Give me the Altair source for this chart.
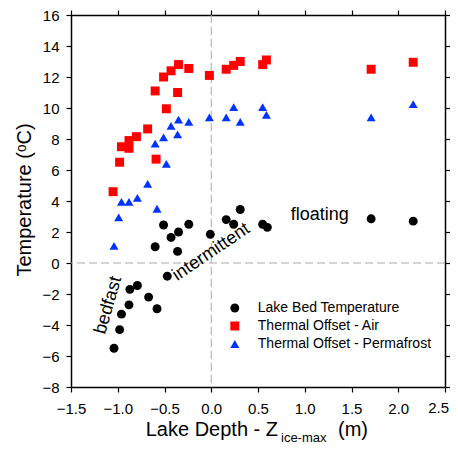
import altair as alt
import pandas as pd

# ---------------- data ----------------
series_names = ["Lake Bed Temperature", "Thermal Offset - Air", "Thermal Offset - Permafrost"]

depth_bed = [-1.04, -0.98, -0.96, -0.88, -0.87, -0.79, -0.67, -0.58, -0.60, -0.51, -0.47, -0.43,
             -0.36, -0.35, -0.24, -0.01, 0.16, 0.24, 0.31, 0.55, 0.60, 1.71, 2.16]
temp_bed = [-5.5, -4.3, -3.3, -2.7, -1.7, -1.45, -2.2, -2.95, 1.05, 2.45, -0.85, 1.65,
            0.75, 2.0, 2.5, 1.85, 2.8, 2.5, 3.45, 2.5, 2.3, 2.85, 2.7]

depth_air = [-1.05, -0.98, -0.96, -0.88, -0.88, -0.80, -0.68, -0.59, -0.60, -0.48, -0.51, -0.43,
             -0.36, -0.35, -0.24, -0.02, 0.16, 0.24, 0.31, 0.55, 0.59, 1.71, 2.16]
offset_air = [4.6, 6.5, 7.5, 7.4, 7.9, 8.15, 8.65, 6.7, 11.1, 9.95, 12.0, 12.4,
              11.0, 12.8, 12.55, 12.1, 12.5, 12.75, 13.0, 12.8, 13.1, 12.5, 12.95]

depth_perm = [-1.04, -0.99, -0.96, -0.88, -0.79, -0.68, -0.58, -0.60, -0.51, -0.48, -0.43,
              -0.36, -0.35, -0.24, -0.02, 0.16, 0.24, 0.31, 0.55, 0.59, 1.71, 2.16]
offset_perm = [1.1, 2.95, 3.95, 3.95, 4.2, 5.1, 3.5, 7.7, 8.1, 6.4, 8.85,
               8.3, 9.25, 9.1, 9.4, 9.4, 10.05, 9.1, 10.05, 9.55, 9.4, 10.25]

x_ticks = [-1.5, -1.0, -0.5, 0.0, 0.5, 1.0, 1.5, 2.0, 2.5]
y_ticks = [-8, -6, -4, -2, 0, 2, 4, 6, 8, 10, 12, 14, 16]

ann_text = ["floating", "intermittent", "bedfast"]
ann_x = [1.16, 0.0, -1.10]
ann_y = [3.1, 0.7, -2.73]
ann_angle = [0, 326, 286]

# ---------------- tables ----------------
rows = []
for name, xs, ys in zip(series_names, [depth_bed, depth_air, depth_perm],
                        [temp_bed, offset_air, offset_perm]):
    for a, b in zip(xs, ys):
        rows.append({"series": name, "depth": a, "temp": b})
df = pd.DataFrame(rows)
ann = pd.DataFrame({"text": ann_text, "x": ann_x, "y": ann_y, "angle": ann_angle})
one = pd.DataFrame({"k": [0]})
last_tick = pd.DataFrame({"x": [x_ticks[-1]], "label": ["%.1f" % x_ticks[-1]]})

FONT = "Liberation Sans"
colors = ["#000000", "#ff0000", "#0033ff"]
shapes = ["circle", "square", "triangle-up"]

xscale = alt.Scale(domain=[-1.5, 2.5], nice=False, zero=False)
yscale = alt.Scale(domain=[-8, 16], nice=False, zero=False)

common_axis = dict(grid=False, title=None, tickSize=5, tickColor="black", tickWidth=1.2,
                   domainColor="black", domainWidth=1.5, labelFont=FONT, labelColor="black",
                   labelFontSize=15, labelFlush=False, labelOverlap=False, labelBound=False)

xaxis = alt.Axis(values=x_ticks, format=".1f", labelPadding=9, orient="bottom",
                 labelExpr="datum.value >= 2.49 ? '' : datum.label", **common_axis)
yaxis = alt.Axis(values=y_ticks, format="d", labelPadding=7, orient="left", **common_axis)
xaxis_top = alt.Axis(values=x_ticks, labels=False, orient="top", **common_axis)
yaxis_right = alt.Axis(values=y_ticks, labels=False, orient="right", **common_axis)

legend = alt.Legend(title=None, orient="none", legendX=156.8, legendY=286, padding=0,
                    labelFont=FONT, labelFontSize=14, labelColor="black", symbolSize=60,
                    symbolStrokeWidth=0, rowPadding=4, labelOffset=16, labelLimit=0)

# dashed zero lines
hline = alt.Chart(one).mark_rule(color="#aaaaaa", strokeDash=[8, 4], strokeWidth=1).encode(
    y=alt.YDatum(0, scale=yscale, axis=None))
vline = alt.Chart(one).mark_rule(color="#aaaaaa", strokeDash=[8, 4], strokeWidth=1).encode(
    x=alt.XDatum(0, scale=xscale, axis=None))

pts = alt.Chart(df).mark_point(filled=True, opacity=1, strokeWidth=0).encode(
    x=alt.X("depth:Q", scale=xscale, axis=xaxis),
    y=alt.Y("temp:Q", scale=yscale, axis=yaxis),
    color=alt.Color("series:N", scale=alt.Scale(domain=series_names, range=colors), legend=legend),
    shape=alt.Shape("series:N", scale=alt.Scale(domain=series_names, range=shapes), legend=legend),
    size=alt.Size("series:N", scale=alt.Scale(domain=series_names, range=[80, 81, 110]), legend=None),
)

ghost = alt.Chart(df).mark_point(opacity=0).encode(
    x=alt.X("depth:Q", scale=xscale, axis=xaxis_top),
    y=alt.Y("temp:Q", scale=yscale, axis=yaxis_right),
)

# last x tick label, kept inside the canvas
last_lbl = alt.Chart(last_tick).mark_text(font=FONT, fontSize=15, color="black", align="right",
                                          baseline="top", dx=4).encode(
    x=alt.X("x:Q", scale=xscale, axis=None),
    y=alt.value(386),
    text="label:N",
)

notes = alt.Chart(ann).mark_text(font=FONT, fontSize=18, color="black", align="center",
                                 baseline="middle").encode(
    x=alt.X("x:Q", scale=xscale, axis=None),
    y=alt.Y("y:Q", scale=yscale, axis=None),
    text="text:N",
    angle=alt.Angle("angle:Q", scale=None),
)

# axis titles (with subscript / superscript)
ytitle = alt.Chart(one).mark_text(text="Temperature (ᵒC)", font=FONT, fontSize=20, color="black",
                                  angle=270, align="center", baseline="middle").encode(
    x=alt.value(-46), y=alt.value(185))
xt_main = alt.Chart(one).mark_text(text="Lake Depth - Z", font=FONT, fontSize=20, color="black",
                                   align="right", baseline="alphabetic").encode(
    x=alt.value(207), y=alt.value(421))
xt_sub = alt.Chart(one).mark_text(text="ice-max", font=FONT, fontSize=13, color="black",
                                  align="left", baseline="alphabetic").encode(
    x=alt.value(210), y=alt.value(427))
xt_end = alt.Chart(one).mark_text(text="(m)", font=FONT, fontSize=20, color="black",
                                  align="left", baseline="alphabetic").encode(
    x=alt.value(267), y=alt.value(421))

chart = alt.layer(hline, vline, pts, ghost, last_lbl, notes, ytitle, xt_main, xt_sub, xt_end).resolve_axis(
    x="independent", y="independent"
).properties(
    width=374, height=372,
    padding={"left": 63, "top": 7, "right": 5, "bottom": 58},
    autosize=alt.AutoSizeParams(type="none"),
).configure_view(strokeWidth=0)

chart.save("out.html", embed_options={"renderer": "svg", "actions": False})
